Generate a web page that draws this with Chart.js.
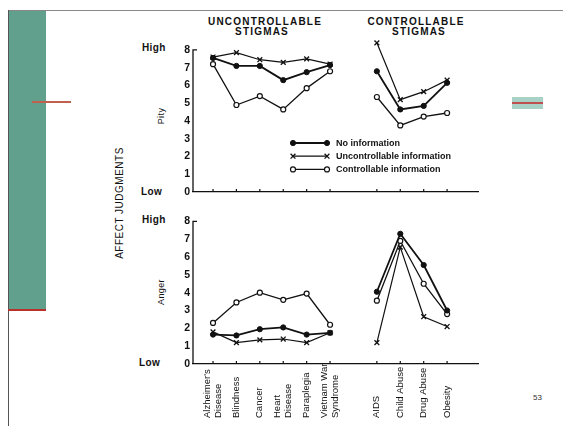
<!DOCTYPE html>
<html>
<head>
<meta charset="utf-8">
<script src="https://cdn.jsdelivr.net/npm/chart.js@4.4.1/dist/chart.umd.min.js"></script>
<style>
  html, body { margin: 0; padding: 0; }
  body { width: 563px; height: 426px; position: relative; overflow: hidden; background: #fff; font-family: 'Liberation Sans', Arial, sans-serif; color: #111; }
  .abs { position: absolute; }
  .txt { position: absolute; white-space: nowrap; line-height: 1; }
  .head { font-weight: bold; font-size: 10px; letter-spacing: 1.2px; transform: translateX(-50%); }
  .side { font-size: 10px; font-weight: bold; letter-spacing: 0.4px; }
  .rot { transform: translate(-50%, -50%) rotate(-90deg); }
  #pity { left: 150px; top: 30px; width: 340px; height: 175px; }
  #anger { left: 150px; top: 212px; width: 340px; height: 214px; }
</style>
</head>
<body>
<!-- slide frame -->
<div class="abs" style="left:8px;top:10px;width:555px;height:1px;background:#888;"></div>
<div class="abs" style="left:8px;top:10px;width:1px;height:416px;background:#555;"></div>
<div class="abs" style="left:9px;top:11px;width:37px;height:299px;background:#61a08d;"></div>
<div class="abs" style="left:8px;top:309px;width:38px;height:2px;background:#b8312a;"></div>
<div class="abs" style="left:32px;top:101px;width:39px;height:1.5px;background:#c0604f;"></div>
<div class="abs" style="left:512px;top:97px;width:31px;height:12px;background:#a9d2c6;"></div>
<div class="abs" style="left:512px;top:101.5px;width:31px;height:2px;background:#c0504d;"></div>

<!-- headings -->
<div class="txt head" style="left:265px;top:17px;">UNCONTROLLABLE</div>
<div class="txt head" style="left:262px;top:27px;">STIGMAS</div>
<div class="txt head" style="left:416px;top:17px;">CONTROLLABLE</div>
<div class="txt head" style="left:419px;top:27px;">STIGMAS</div>

<!-- left labels -->
<div class="txt side" style="left:142px;top:43px;">High</div>
<div class="txt side rot" style="left:161px;top:116px;font-size:9px;font-weight:normal;">Pity</div>
<div class="txt side" style="left:141px;top:187px;">Low</div>
<div class="txt side" style="left:142px;top:215px;">High</div>
<div class="txt side rot" style="left:161px;top:292px;font-size:9px;font-weight:normal;">Anger</div>
<div class="txt side" style="left:139px;top:358px;">Low</div>
<div class="txt rot" style="left:120px;top:203px;font-size:10px;letter-spacing:0.5px;">AFFECT JUDGMENTS</div>

<div class="txt" style="left:533px;top:394px;font-size:8px;color:#333;">53</div>

<div id="pity" class="abs"><canvas id="cPity"></canvas></div>
<div id="anger" class="abs"><canvas id="cAnger"></canvas></div>

<script>
/* categories: blank entry = gap between the two stigma groups */
var CATEGORIES = [["Alzheimer's", "Disease"], "Blindness", "Cancer", ["Heart", "Disease"], "Paraplegia",
  ["Vietnam War", "Syndrome"], "", "AIDS", "Child Abuse", "Drug Abuse", "Obesity"];
var SERIES_NAMES = ["No information", "Uncontrollable information", "Controllable information"];
var Y_TICKS = [0, 1, 2, 3, 4, 5, 6, 7, 8];

var PITY_NONE = [7.55, 7.1, 7.1, 6.3, 6.75, 7.15, null, 6.8, 4.65, 4.85, 6.15];
var PITY_UNC  = [7.6, 7.85, 7.45, 7.3, 7.5, 7.2, null, 8.4, 5.2, 5.65, 6.3];
var PITY_CTRL = [7.2, 4.9, 5.4, 4.65, 5.85, 6.8, null, 5.35, 3.75, 4.25, 4.45];

var ANGER_NONE = [1.65, 1.6, 1.95, 2.05, 1.65, 1.75, null, 4.05, 7.3, 5.55, 3.0];
var ANGER_UNC  = [1.8, 1.2, 1.35, 1.4, 1.2, 1.75, null, 1.2, 6.55, 2.65, 2.1];
var ANGER_CTRL = [2.3, 3.45, 4.0, 3.6, 3.95, 2.2, null, 3.55, 6.9, 4.5, 2.8];

var INK = '#111';
var STYLES = [
  { pointStyle: 'circle', pointRadius: 2.6, backgroundColor: INK, borderWidth: 1.8, pointBorderWidth: 1 },
  { pointStyle: 'crossRot', pointRadius: 3.4, backgroundColor: INK, borderWidth: 1.2, pointBorderWidth: 1.3 },
  { pointStyle: 'circle', pointRadius: 2.5, backgroundColor: '#fff', borderWidth: 1.3, pointBorderWidth: 1.2 }
];

function toPoints(arr) {
  return arr.map(function(v, i) { return { x: i, y: v }; });
}

function makeDatasets(list) {
  return list.map(function(arr, k) {
    var s = STYLES[k];
    return {
      label: SERIES_NAMES[k], data: toPoints(arr), borderColor: INK, borderWidth: s.borderWidth,
      pointStyle: s.pointStyle, pointRadius: s.pointRadius, pointBackgroundColor: s.backgroundColor,
      pointBorderColor: INK, pointBorderWidth: s.pointBorderWidth, tension: 0, spanGaps: false, clip: false
    };
  });
}

/* y axis line 0..8 with its cap tick, plus small ticks standing on the x axis */
var axisMarks = {
  id: 'axisMarks',
  afterDraw: function(chart) {
    var ctx = chart.ctx, xs = chart.scales.x, ys = chart.scales.y;
    var base = ys.getPixelForValue(0), top = ys.getPixelForValue(8);
    ctx.save();
    ctx.strokeStyle = INK; ctx.lineWidth = 1.3;
    ctx.beginPath(); ctx.moveTo(xs.left, base); ctx.lineTo(xs.left, top); ctx.lineTo(xs.left + 4, top); ctx.stroke();
    ctx.lineWidth = 1.2;
    CATEGORIES.forEach(function(c, i) {
      if (c === '') return;
      var px = xs.getPixelForValue(i);
      ctx.beginPath(); ctx.moveTo(px, base); ctx.lineTo(px, base - 3); ctx.stroke();
    });
    ctx.restore();
  }
};

/* rotated category labels, reading upward from a common baseline */
var catLabels = {
  id: 'catLabels',
  afterDraw: function(chart) {
    var ctx = chart.ctx, xs = chart.scales.x;
    var startY = chart.height - 8;
    ctx.save();
    ctx.fillStyle = INK;
    ctx.font = "9.5px 'Liberation Sans Narrow', 'Arial Narrow', 'Liberation Sans', sans-serif";
    ctx.textBaseline = 'middle';
    ctx.textAlign = 'left';
    CATEGORIES.forEach(function(c, i) {
      if (c === '') return;
      var lines = Array.isArray(c) ? c : [c];
      var px = xs.getPixelForValue(i);
      lines.forEach(function(line, j) {
        var off = (j - (lines.length - 1) / 2) * 11;
        ctx.save();
        ctx.translate(px + off, startY);
        ctx.rotate(-Math.PI / 2);
        ctx.fillText(line, 0, 0);
        ctx.restore();
      });
    });
    ctx.restore();
  }
};

/* legend drawn inside the pity panel */
var innerLegend = {
  id: 'innerLegend',
  afterDraw: function(chart) {
    var ctx = chart.ctx;
    var x0 = 143, x1 = 177, y0 = 113, dy = 13.2;
    ctx.save();
    chart.data.datasets.forEach(function(ds, k) {
      var y = y0 + k * dy;
      ctx.strokeStyle = INK; ctx.lineWidth = ds.borderWidth;
      ctx.beginPath(); ctx.moveTo(x0, y); ctx.lineTo(x1, y); ctx.stroke();
      [x0, x1].forEach(function(px) {
        ctx.fillStyle = ds.pointBackgroundColor; ctx.strokeStyle = INK; ctx.lineWidth = ds.pointBorderWidth;
        Chart.helpers.drawPoint(ctx, {
          pointStyle: ds.pointStyle, radius: ds.pointRadius, borderWidth: ds.pointBorderWidth, rotation: 0
        }, px, y);
      });
      ctx.fillStyle = INK;
      ctx.font = "bold 9px 'Liberation Sans', Arial, sans-serif";
      ctx.textBaseline = 'middle'; ctx.textAlign = 'left';
      ctx.fillText(ds.label, 186, y + 0.5);
    });
    ctx.restore();
  }
};

function createPanel(id, seriesList, yMax, topPad, xHeight, plugins) {
  return new Chart(document.getElementById(id), {
    type: 'line',
    data: { datasets: makeDatasets(seriesList) },
    plugins: plugins,
    options: {
      responsive: true, maintainAspectRatio: false, animation: false,
      layout: { padding: { top: topPad, right: 12, left: 0, bottom: 0 } },
      plugins: { legend: { display: false }, tooltip: { enabled: false } },
      scales: {
        x: {
          type: 'linear', min: -0.855, max: 11.32,
          grid: { display: false }, ticks: { display: false },
          border: { display: true, color: INK, width: 1.3 },
          afterFit: function(s) { s.height = xHeight; }
        },
        y: {
          min: 0, max: yMax,
          afterBuildTicks: function(s) { s.ticks = Y_TICKS.map(function(v) { return { value: v }; }); },
          grid: { display: false, drawTicks: false },
          border: { display: false },
          ticks: { color: INK, padding: 3, font: { family: "'Liberation Sans', Arial, sans-serif", size: 10.5, weight: 'bold' } },
          afterFit: function(s) { s.width = 43; }
        }
      }
    }
  });
}

createPanel('cPity', [PITY_NONE, PITY_UNC, PITY_CTRL], 8.6, 8.3, 13, [axisMarks, innerLegend]);
createPanel('cAnger', [ANGER_NONE, ANGER_UNC, ANGER_CTRL], 8, 9, 62, [axisMarks, catLabels]);
</script>
</body>
</html>
